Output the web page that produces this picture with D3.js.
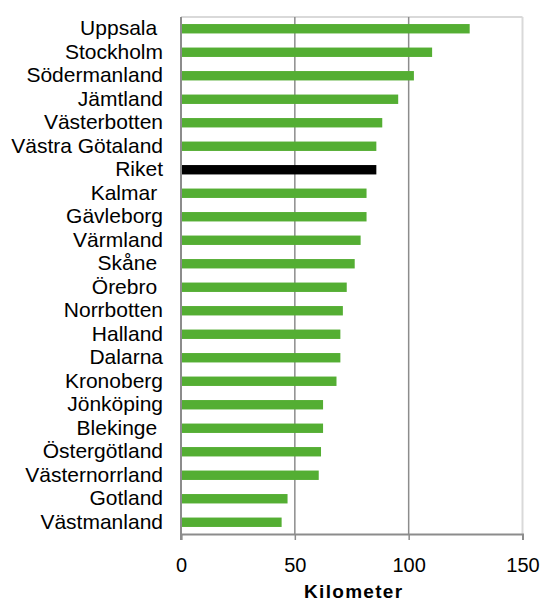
<!DOCTYPE html>
<html>
<head>
<meta charset="utf-8">
<script src="https://cdn.jsdelivr.net/npm/d3@7"></script>
<style>
  body { margin: 0; background: #fff; }
  svg { display: block; font-family: "Liberation Sans", Arial, sans-serif; }
</style>
</head>
<body>
<div id="chart"></div>
<script>
// Regions (trailing spaces kept as in the original labels)
const regions = [
    "Uppsala ", "Stockholm", "Södermanland", "Jämtland", "Västerbotten",
    "Västra Götaland", "Riket", "Kalmar ", "Gävleborg", "Värmland",
    "Skåne ", "Örebro ", "Norrbotten", "Halland", "Dalarna",
    "Kronoberg", "Jönköping", "Blekinge ", "Östergötland", "Västernorrland",
    "Gotland", "Västmanland"
];
// Kilometer per region
const kilometers = [
    126.8, 110.3, 102.3, 95.4, 88.4,
    85.8, 85.8, 81.5, 81.5, 78.9,
    76.3, 72.8, 71.1, 70.0, 70.0,
    68.3, 62.4, 62.4, 61.5, 60.5,
    46.8, 44.2
];
const xTicks = [0, 50, 100, 150];
const axisTitle = "Kilometer";

const data = regions.map((r, i) => ({ region: r, value: kilometers[i] }));

const width = 547, height = 604;
const margin = { top: 17, right: 24.5, bottom: 70, left: 181 };

const svg = d3.select("#chart").append("svg")
    .attr("width", width)
    .attr("height", height);

const x = d3.scaleLinear()
    .domain([0, 150])
    .range([margin.left, width - margin.right]);

const y = d3.scaleBand()
    .domain(regions)
    .range([margin.top, height - margin.bottom])
    .paddingInner(0.6)
    .paddingOuter(0.3);

const plotTop = margin.top, plotBottom = height - margin.bottom;

// frame (light gray top and right)
svg.append("line")
    .attr("x1", x(0)).attr("x2", x(150))
    .attr("y1", plotTop).attr("y2", plotTop)
    .attr("stroke", "#d9d9d9").attr("stroke-width", 2);
svg.append("line")
    .attr("x1", x(150)).attr("x2", x(150))
    .attr("y1", plotTop).attr("y2", plotBottom)
    .attr("stroke", "#d9d9d9").attr("stroke-width", 2);

// gridlines
svg.selectAll(".grid")
    .data([50, 100])
    .enter()
    .append("line")
    .attr("class", "grid")
    .attr("x1", d => x(d)).attr("x2", d => x(d))
    .attr("y1", plotTop).attr("y2", plotBottom)
    .attr("stroke", "#8c8c8c")
    .attr("stroke-width", 1.5);

// bars
svg.selectAll(".bar")
    .data(data)
    .enter()
    .append("rect")
    .attr("class", "bar")
    .attr("x", x(0))
    .attr("y", d => y(d.region))
    .attr("width", d => x(d.value) - x(0))
    .attr("height", y.bandwidth())
    .attr("fill", d => d.region === "Riket" ? "#000" : "#54ae33");

// bottom axis
const xAxis = svg.append("g")
    .attr("transform", `translate(0,${plotBottom})`)
    .call(d3.axisBottom(x).tickValues(xTicks).tickSize(6).tickPadding(18));
xAxis.select(".domain").attr("stroke", "#8c8c8c").attr("stroke-width", 2);
xAxis.selectAll(".tick line").attr("stroke", "#8c8c8c").attr("stroke-width", 1.5);
xAxis.selectAll(".tick text")
    .attr("font-size", 20)
    .attr("fill", "#000")
    .attr("font-family", "Liberation Sans, Arial, sans-serif");

// left axis
const yAxis = svg.append("g")
    .attr("transform", `translate(${margin.left},0)`)
    .call(d3.axisLeft(y).tickSize(0).tickPadding(18));
yAxis.select(".domain").remove();
yAxis.selectAll(".tick text")
    .attr("font-size", 21)
    .attr("fill", "#000")
    .attr("font-family", "Liberation Sans, Arial, sans-serif")
    .style("white-space", "pre");

svg.append("line")
    .attr("x1", x(0)).attr("x2", x(0))
    .attr("y1", plotTop).attr("y2", plotBottom + 6)
    .attr("stroke", "#8c8c8c").attr("stroke-width", 2);

// axis title
svg.append("text")
    .attr("x", (x(0) + x(150)) / 2 + 2)
    .attr("y", 598)
    .attr("text-anchor", "middle")
    .attr("font-size", 19)
    .attr("font-weight", "bold")
    .attr("letter-spacing", 1.3)
    .text(axisTitle);
</script>
</body>
</html>
